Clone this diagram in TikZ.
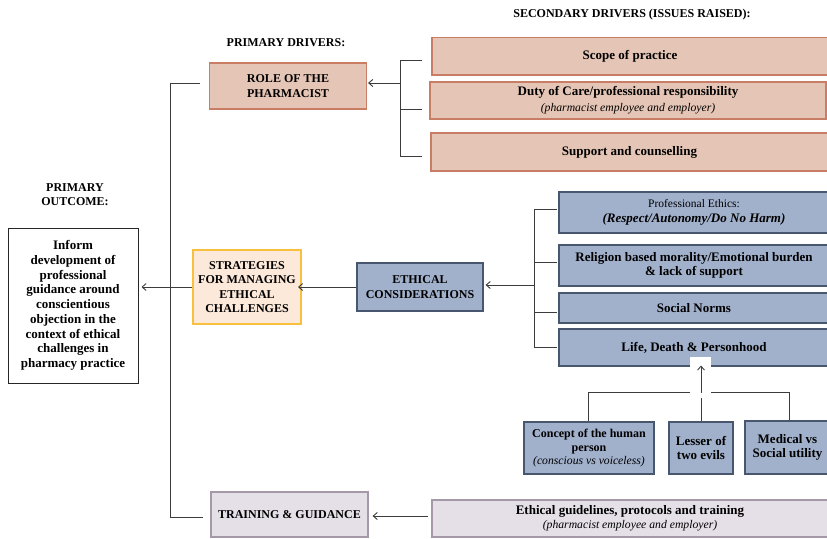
\documentclass[tikz,border=0pt]{standalone}
\usepackage{fontspec}
\setmainfont{Liberation Serif}
\usetikzlibrary{arrows.meta}
\definecolor{peachF}{RGB}{229,197,181}
\definecolor{peachD}{RGB}{200,125,100}
\definecolor{blueF}{RGB}{161,176,203}
\definecolor{blueD}{RGB}{72,86,112}
\definecolor{goldF}{RGB}{252,233,218}
\definecolor{goldD}{RGB}{248,192,60}
\definecolor{lavF}{RGB}{229,223,231}
\definecolor{lavD}{RGB}{165,152,168}
\definecolor{lineC}{RGB}{60,60,60}
\newcommand\subtxt[1]{{\mdseries\itshape\fontsize{11.7}{12}\selectfont #1}}
\tikzset{
  every node/.style={font=\bfseries\fontsize{13}{14.7}\selectfont, align=center, inner sep=1pt},
  caps/.style={font=\bfseries\fontsize{12}{14.5}\selectfont},
  box/.style={draw, line width=1.2pt},
  peach/.style={box, fill=peachF, draw=peachD},
  bluebox/.style={box, fill=blueF, draw=blueD},
  gold/.style={box, fill=goldF, draw=goldD, line width=2pt},
  lav/.style={box, fill=lavF, draw=lavD},
  outbox/.style={box, fill=white, draw=black!85, line width=1pt},
  conn/.style={draw=lineC, line width=0.9pt},
  arr/.style={conn, -{Straight Barb[length=4pt,width=7pt]}}
}
\begin{document}
\begin{tikzpicture}[x=1pt,y=-1pt]
\useasboundingbox (0,0) rectangle (827,538);
% labels
\node[caps] (seclab) at (632,15) {SECONDARY DRIVERS (ISSUES RAISED):};
\node[caps] (primlab) at (286,43) {PRIMARY DRIVERS:};
\node[caps] (outlab) at (75,194.5) {PRIMARY\\OUTCOME:};
% primary drivers
\node[peach, caps, minimum width=157pt, minimum height=46pt] (role) at (288,86) {ROLE OF THE\\PHARMACIST};
\node[gold, caps, minimum width=108pt, minimum height=74pt] (strat) at (247,287) {STRATEGIES\\FOR MANAGING\\ETHICAL\\CHALLENGES};
\node[lav, caps, minimum width=157pt, minimum height=45pt] (train) at (289.5,514.5) {TRAINING \& GUIDANCE};
% outcome
\node[outbox, minimum width=130pt, minimum height=155pt] (out) at (73,305.5) {Inform\\development of\\professional\\guidance around\\conscientious\\objection in the\\context of ethical\\challenges in\\pharmacy practice};
% secondary peach
\node[peach, minimum width=396pt, minimum height=37.5pt] (scope) at (630,56.25) {Scope of practice};
\node[peach, minimum width=396pt, minimum height=37pt] (duty) at (628,100.5) {Duty of Care/professional responsibility\\[1pt]\subtxt{(pharmacist employee and employer)}};
\node[peach, minimum width=397pt, minimum height=38pt] (supp) at (629.5,152) {Support and counselling};
% ethical
\node[bluebox, caps, minimum width=126pt, minimum height=48pt] (ethc) at (420,287) {ETHICAL\\CONSIDERATIONS};
\node[bluebox, minimum width=270pt, minimum height=41pt] (prof) at (694,212.5) {{\mdseries\fontsize{11.5}{14.5}\selectfont Professional Ethics:}\\{\bfseries\itshape (Respect/Autonomy/Do No Harm)}};
\node[bluebox, minimum width=270pt, minimum height=41pt] (relig) at (694,265.5) {Religion based morality/Emotional burden\\\& lack of support};
\node[bluebox, minimum width=270pt, minimum height=30pt] (social) at (694,308) {Social Norms};
\node[bluebox, minimum width=270pt, minimum height=37pt] (life) at (694,347.5) {Life, Death \& Personhood};
\node[bluebox, minimum width=130pt, minimum height=52pt, font=\bfseries\fontsize{12}{14.3}\selectfont] (concept) at (589,448) {Concept of the human\\person\\[-1pt]\subtxt{(conscious vs voiceless)}};
\node[bluebox, minimum width=64pt, minimum height=52pt] (lesser) at (701,448) {Lesser of\\two evils};
\node[bluebox, minimum width=85pt, minimum height=53pt] (medical) at (787.5,447.5) {Medical vs\\Social utility};
\node[lav, minimum width=396pt, minimum height=37pt] (guide) at (630,518.5) {Ethical guidelines, protocols and training\\[-1pt]\subtxt{(pharmacist employee and employer)}};
% coordinates
\coordinate (trTop) at (170,83);
\coordinate (trBot) at (170,517);
\coordinate (trMid) at (170,287);
\coordinate (brA) at (400,60);
\coordinate (brB) at (400,156);
\coordinate (brM) at (400,83);
\coordinate (brE1) at (534,209);
\coordinate (brE2) at (534,347);
\coordinate (brEM) at (534,285);
\coordinate (hl) at (588,392);
\coordinate (hr) at (789,392);
\coordinate (hm) at (701,398);
\coordinate (gA) at (428,516);
% left trunk
\draw[conn] (200,83) -- (trTop) -- (trBot) -- (203,517);
\draw[conn] (strat.west) -- (trMid);
\draw[arr] (trMid) -- ([xshift=3pt]trMid -| out.east);
% role bracket
\draw[conn] (422,60) -- (brA) -- (brB) -- (422,156);
\draw[conn] (brA |- 0,109) -- (422,109);
\draw[arr] (brM) -- ([xshift=1pt]brM -| role.east);
% ethics arrows
\draw[arr] (ethc.west) -- ([xshift=-4pt]strat.east);
\draw[conn] (557,209) -- (brE1) -- (brE2) -- (557,347);
\draw[conn] (534,262) -- (557,262);
\draw[conn] (534,312) -- (557,312);
\draw[arr] (brEM) -- ([xshift=2pt]brEM -| ethc.east);
% lower bracket
\draw[conn] (concept.north -| hl) -- (hl) -- (hr) -- (medical.north -| hr);
\draw[conn] (lesser.north) -- (hm);
\fill[white] (690,357) rectangle (711,395);
\draw[arr] (701,393) -- (701,365.5);
% training
\draw[arr] (gA) -- ([xshift=4pt]gA -| train.east);
\end{tikzpicture}
\end{document}
